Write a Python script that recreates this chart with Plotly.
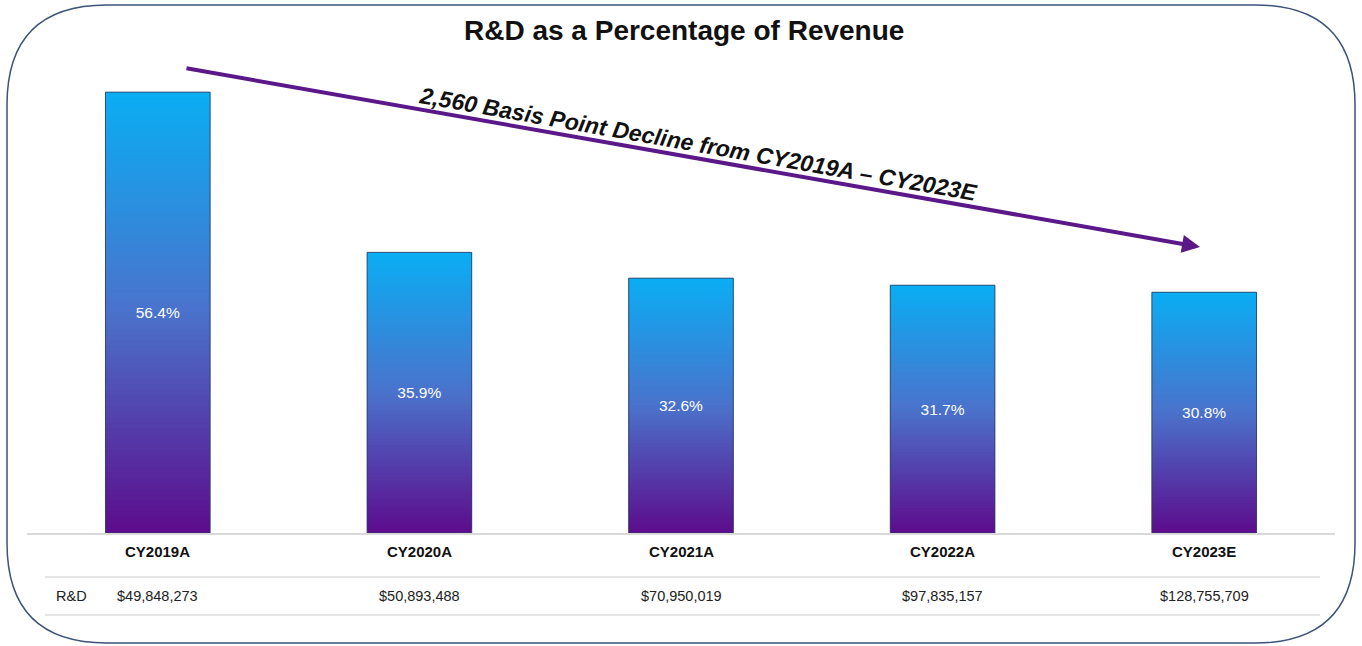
import plotly.graph_objects as go

# ---- data ----
years = ["CY2019A", "CY2020A", "CY2021A", "CY2022A", "CY2023E"]
rd_pct = [56.4, 35.9, 32.6, 31.7, 30.8]
rd_spend = ["$49,848,273", "$50,893,488", "$70,950,019", "$97,835,157", "$128,755,709"]

title_text = "R&D as a Percentage of Revenue"
arrow_text = "2,560 Basis Point Decline from CY2019A \u2013 CY2023E"

FONT = "Arial, 'Liberation Sans', sans-serif"
W, H = 1362, 646
M_L, M_R, M_T, M_B = 27, 27, 64, 113
PW, PH = W - M_L - M_R, H - M_T - M_B

# gradient stops, bottom -> top
GRAD = [(0.0, (93, 12, 140)), (0.5, (74, 114, 203)), (1.0, (10, 174, 244))]
N_STEPS = 80


def px_to_paper(px, py):
    return (px - M_L) / PW, (H - M_B - py) / PH


def mix(t):
    for (t0, c0), (t1, c1) in zip(GRAD[:-1], GRAD[1:]):
        if t <= t1:
            f = (t - t0) / (t1 - t0)
            r, g, b = (round(c0[i] + (c1[i] - c0[i]) * f) for i in range(3))
            return f"rgb({r},{g},{b})"
    return "rgb(%d,%d,%d)" % GRAD[-1][1]


fig = go.Figure()

# gradient fill: each bar is stacked from thin overlapping slices, purple bottom -> blue top
for k in range(N_STEPS):
    span = min(2, N_STEPS - k)
    fig.add_trace(go.Bar(
        x=years,
        y=[v * span / N_STEPS for v in rd_pct],
        base=[v * k / N_STEPS for v in rd_pct],
        width=0.4,
        marker=dict(color=mix((k + 0.5) / N_STEPS), line=dict(width=0)),
        hoverinfo="skip",
        showlegend=False,
    ))

# outline + labels
fig.add_trace(go.Bar(
    x=years,
    y=rd_pct,
    width=0.4,
    marker=dict(color="rgba(0,0,0,0)", line=dict(color="rgba(40,60,100,0.85)", width=1)),
    text=[f"{v:.1f}%" for v in rd_pct],
    textposition="inside",
    insidetextanchor="middle",
    textangle=0,
    textfont=dict(family=FONT, size=15.5, color="white"),
    showlegend=False,
))

annotations = []
for yr, spend in zip(years, rd_spend):
    annotations.append(dict(x=yr, y=0, xref="x", yref="y", yanchor="middle", yshift=-18,
                            text=f"<b>{yr}</b>", showarrow=False,
                            font=dict(family=FONT, size=15, color="#111")))
    annotations.append(dict(x=yr, y=0, xref="x", yref="y", yanchor="middle", yshift=-63,
                            text=spend, showarrow=False,
                            font=dict(family=FONT, size=14.5, color="#222")))

rx, _ = px_to_paper(54, 0)
annotations.append(dict(x=rx, y=0, xref="paper", yref="y", xanchor="left", yanchor="middle",
                        yshift=-63, text="R&D", showarrow=False,
                        font=dict(family=FONT, size=14.5, color="#222")))

# title
tx0, ty0 = px_to_paper(684, 31)
annotations.append(dict(x=tx0, y=ty0, xref="paper", yref="paper",
                        text=f"<b>{title_text}</b>", showarrow=False,
                        font=dict(family=FONT, size=28, color="#111"),
                        xanchor="center", yanchor="middle"))

# decline arrow
hx, hy = px_to_paper(1200, 247)
annotations.append(dict(x=hx, y=hy, xref="paper", yref="paper", ax=185 - 1200, ay=68 - 247,
                        text="", showarrow=True, arrowhead=2, arrowsize=0.9, arrowwidth=4,
                        arrowcolor="#5b1889"))
tx, ty = px_to_paper(698, 144)
annotations.append(dict(x=tx, y=ty, xref="paper", yref="paper", textangle=10,
                        text=f"<b><i>{arrow_text}</i></b>", showarrow=False,
                        font=dict(family=FONT, size=23, color="#111"),
                        xanchor="center", yanchor="middle"))

shapes = []
# table rules
for py in (577, 615):
    x0, y0 = px_to_paper(45, py)
    x1, _ = px_to_paper(1320, py)
    shapes.append(dict(type="line", xref="paper", yref="paper",
                       x0=x0, x1=x1, y0=y0, y1=y0, line=dict(color="#dcdcdc", width=1.5)))

# rounded frame
L, T, R, B, rad = 7, 5, 1355, 643, 100
pts = [
    ("M", (L + rad, T)), ("L", (R - rad, T)), ("Q", (R, T), (R, T + rad)),
    ("L", (R, B - rad)), ("Q", (R, B), (R - rad, B)), ("L", (L + rad, B)),
    ("Q", (L, B), (L, B - rad)), ("L", (L, T + rad)), ("Q", (L, T), (L + rad, T)),
]
path = ""
for cmd, *cs in pts:
    path += cmd + " " + " ".join("%.5f,%.5f" % px_to_paper(*c) for c in cs) + " "
shapes.append(dict(type="path", xref="paper", yref="paper", path=path + "Z",
                   line=dict(color="#3d5378", width=1.5), layer="below"))

fig.update_layout(
    width=W, height=H,
    margin=dict(l=M_L, r=M_R, t=M_T, b=M_B),
    barmode="overlay",
    bargap=0.6,
    paper_bgcolor="white",
    plot_bgcolor="rgba(0,0,0,0)",
    xaxis=dict(showticklabels=False, showgrid=False, zeroline=False, ticks="",
               showline=True, linecolor="#d9d9d9", linewidth=1.5, range=[-0.5, 4.5], fixedrange=True),
    yaxis=dict(visible=False, range=[0, 60], fixedrange=True),
    annotations=annotations,
    shapes=shapes,
    font=dict(family=FONT),
    showlegend=False,
)

# page has a default 8px body margin; drop it so the figure sits at the window origin
fig.write_html("out.html", config={"displayModeBar": False},
               post_script="document.body.style.margin='0';")
